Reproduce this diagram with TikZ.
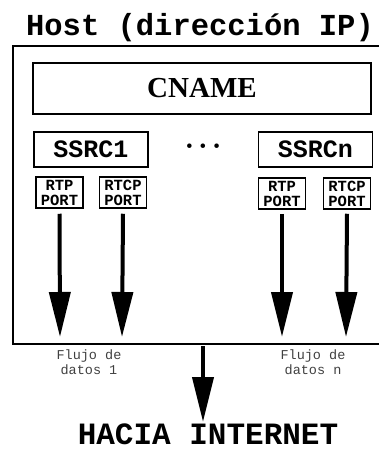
\documentclass[tikz,border=0pt]{standalone}
\usepackage{fontspec}
\setmainfont{Liberation Serif}
\setmonofont{Liberation Mono}
\usetikzlibrary{arrows.meta}

\tikzset{
  frame/.style={draw=black, line width=2pt},
  ssrcbox/.style={draw=black, line width=1.8pt, minimum width=114pt, minimum height=35pt,
    inner sep=0pt, font=\fontsize{25}{25}\selectfont\ttfamily\bfseries},
  portbox/.style={draw=black, line width=1.5pt, minimum width=47pt, minimum height=31pt,
    inner sep=0pt, align=center, font=\fontsize{15.5}{15}\selectfont\ttfamily\bfseries},
  flow/.style={line width=4pt, -{Triangle[width=21pt,length=45pt]}, shorten <=0pt},
  caption/.style={align=center, text=black!75, font=\fontsize{13.5}{15}\selectfont\ttfamily},
  heading/.style={font=\fontsize{30.5}{30.5}\selectfont\ttfamily\bfseries}
}

\begin{document}
\begin{tikzpicture}[x=1pt, y=-1pt]
  \useasboundingbox (0,0) rectangle (378,452);

  % title
  \node[heading] (title) at (200,28) {Host (dirección IP)};

  % host frame, running past the right edge
  \draw[frame] (380,46) -- (13,46) -- (13,344) -- (380,344);
  \coordinate (hostout) at (203,346);

  % canonical name
  \node[draw=black, line width=2pt, minimum width=338pt, minimum height=51pt, inner sep=0pt,
        font=\fontsize{29}{29}\selectfont\bfseries] (cname) at (202,88.5) {CNAME};

  % sources
  \node[ssrcbox] (s1) at (91,149.5) {SSRC1};
  \node[ssrcbox] (sn) at (315.5,149.5) {SSRCn};
  \node[font=\fontsize{19}{19}\selectfont] (dots) at (203,148) {•\hspace{7pt}•\hspace{7pt}•};

  % ports
  \node[portbox] (rtp1)  at (59.5,192.5)  {RTP\\PORT};
  \node[portbox] (rtcp1) at (123,192.5)   {RTCP\\PORT};
  \node[portbox] (rtpn)  at (282,193.5)   {RTP\\PORT};
  \node[portbox] (rtcpn) at (347,193.5)   {RTCP\\PORT};

  % arrow ends
  \coordinate (e1) at (60,337);
  \coordinate (e2) at (122,337);
  \coordinate (e3) at (282,337);
  \coordinate (e4) at (346,337);
  \draw[flow] ([yshift=-5pt]rtp1.south)  -- (e1);
  \draw[flow] ([yshift=-5pt]rtcp1.south) -- (e2);
  \draw[flow] ([yshift=-4pt]rtpn.south)  -- (e3);
  \draw[flow] ([yshift=-4pt]rtcpn.south) -- (e4);

  % flow labels
  \node[caption] (f1) at (89,362) {Flujo de\\ datos 1};
  \node[caption] (fn) at (313,362) {Flujo de\\ datos n};

  % outgoing arrow
  \node[heading, font=\fontsize{31}{31}\selectfont\ttfamily\bfseries] (net) at (208,434) {HACIA INTERNET};
  \draw[flow] (hostout) -- (203,422);
\end{tikzpicture}
\end{document}
